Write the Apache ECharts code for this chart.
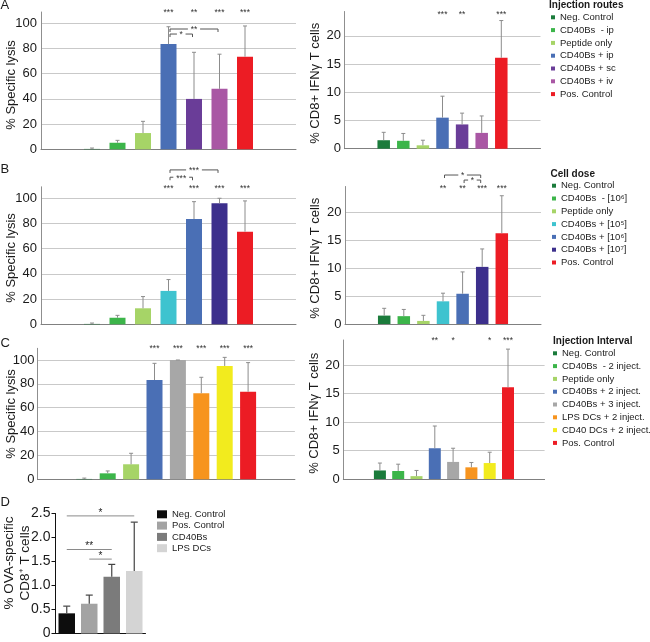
<!DOCTYPE html>
<html><head><meta charset="utf-8">
<script src="https://cdn.jsdelivr.net/npm/echarts@6/dist/echarts.min.js"></script>
<style>html,body{margin:0;padding:0;background:#fff}#c{width:650px;height:642px}</style>
</head><body><div id="c"></div>
<script>
const FONT = "'Liberation Sans', Arial, Helvetica, sans-serif";

// ---------------- DATA ----------------
// tick labels
const lysisTicks = [0, 20, 40, 60, 80, 100];
const ifnTicks = [0, 5, 10, 15, 20];
const ovaTicks = [0, 0.5, 1.0, 1.5, 2.0, 2.5];

// Panel A: injection routes
const routesNames = ['Neg. Control', 'CD40Bs  - ip', 'Peptide only', 'CD40Bs + ip', 'CD40Bs + sc', 'CD40Bs + iv', 'Pos. Control'];
const routesColors = ['#1b7b3b', '#3cb54a', '#a6d467', '#4a6fb5', '#6a3d98', '#a957a4', '#ec1c24'];
const routesLysis = [0.3, 5.2, 12.9, 83.5, 40, 48, 73.5];
const routesLysisErr = [1.0, 7.1, 22.2, 97.3, 77, 75.5, 97.9];
const routesLysisStars = ['', '', '', '***', '**', '***', '***'];
const routesLysisBrackets = [['**', 3, 5], ['*', 3, 4]];
const routesIfn = [1.5, 1.4, 0.6, 5.5, 4.3, 2.8, 16.1];
const routesIfnErr = [2.9, 2.7, 1.5, 9.3, 6.3, 5.8, 22.7];
const routesIfnStars = ['', '', '', '***', '**', '', '***'];

// Panel B: cell dose
const doseNames = ['Neg. Control', 'CD40Bs  - [10\u2076]', 'Peptide only', 'CD40Bs + [10\u2075]', 'CD40Bs + [10\u2076]', 'CD40Bs + [10\u2077]', 'Pos. Control'];
const doseColors = ['#1b7b3b', '#3cb54a', '#a6d467', '#3ec3cf', '#4a6fb5', '#3c2f8c', '#ec1c24'];
const doseLysis = [0.3, 5.2, 12.7, 26.5, 83.5, 96, 73.5];
const doseLysisErr = [1.0, 7.1, 22, 35.5, 97.3, 100, 97.9];
const doseLysisStars = ['', '', '', '***', '***', '***', '***'];
const doseLysisBrackets = [['***', 3, 5], ['***', 3, 4]];
const doseIfn = [1.5, 1.4, 0.55, 4.05, 5.4, 10.2, 16.2];
const doseIfnErr = [2.8, 2.6, 1.55, 5.5, 9.3, 13.4, 22.9];
const doseIfnStars = ['', '', '', '**', '**', '***', '***'];
const doseIfnBrackets = [['*', 3, 5], ['*', 4, 5]];

// Panel C: injection interval
const intervalNames = ['Neg. Control', 'CD40Bs  - 2 inject.', 'Peptide only', 'CD40Bs + 2 inject.', 'CD40Bs + 3 inject.', 'LPS DCs + 2 inject.', 'CD40 DCs + 2 inject.', 'Pos. Control'];
const intervalColors = ['#1b7b3b', '#3cb54a', '#a6d467', '#4a6fb5', '#a7a7a7', '#f7941e', '#f2eb1e', '#ec1c24'];
const intervalLysis = [0.3, 5.0, 12.6, 83.2, 100, 72.1, 95, 73.4];
const intervalLysisErr = [1.0, 7.0, 21.8, 97.2, 100, 85.5, 102.2, 97.8];
const intervalLysisStars = ['', '', '', '***', '***', '***', '***', '***'];
const intervalIfn = [1.5, 1.4, 0.5, 5.4, 3.0, 2.05, 2.8, 16.1];
const intervalIfnErr = [2.8, 2.6, 1.5, 9.3, 5.4, 2.9, 4.7, 22.8];
const intervalIfnStars = ['', '', '', '**', '*', '', '*', '***'];

// Panel D: OVA-specific CD8+ T cells
const ovaNames = ['Neg. Control', 'Pos. Control', 'CD40Bs', 'LPS DCs'];
const ovaColors = ['#0d0d0d', '#a3a3a3', '#7b7b7b', '#d4d4d4'];
const ovaVals = [0.42, 0.62, 1.18, 1.3];
const ovaErr = [0.57, 0.8, 1.44, 2.32];
const ovaComparisons = [['*', 0, 3], ['**', 0, 2], ['*', 1, 2]];

// ---------------- BUILD ----------------
const option = {
  animation: false, backgroundColor: '#fff',
  grid: [], xAxis: [], yAxis: [], series: [], legend: [], graphic: { elements: [] }
};

function isTick(ticks, v) { return ticks.some(t => Math.abs(t - v) < 1e-6); }

function addPanel(p) {
  const gi = option.grid.length;
  option.grid.push({ left: p.left, top: p.top, width: p.width, height: p.height, containLabel: false });
  const pad = p.padBefore || 0;
  const cats = [];
  for (let i = 0; i < pad; i++) cats.push('pad' + i);
  p.names.forEach(n => cats.push(n));
  while (cats.length < p.nCat) cats.push('pad' + cats.length);
  option.xAxis.push({
    gridIndex: gi, type: 'category', data: cats, boundaryGap: p.boundaryGap,
    axisLine: { show: true, lineStyle: { color: p.xLineColor, width: 1 } },
    axisTick: { show: false }, axisLabel: { show: false }, splitLine: { show: false }
  });
  const ticks = p.ticks;
  option.yAxis.push({
    gridIndex: gi, type: 'value', min: 0, max: p.max, interval: ticks[1] - ticks[0],
    axisLine: { show: true, lineStyle: { color: p.yLineColor, width: 1 } },
    axisTick: p.yTick ? { show: true, inside: false, length: 4, lineStyle: { color: p.yLineColor } } : { show: false },
    axisLabel: {
      fontFamily: FONT, fontSize: p.labelSize, color: '#1a1a1a', margin: p.labelMargin,
      showMaxLabel: p.showMaxLabel,
      formatter: v => isTick(ticks, v) ? (p.fmt ? p.fmt(v) : String(v)) : ''
    },
    splitLine: { show: p.grid, showMaxLine: false, lineStyle: { color: '#c9c9c9', width: 1 } }
  });
  // bars, one series per category
  p.names.forEach((n, i) => {
    option.series.push({
      type: 'bar', name: n, xAxisIndex: gi, yAxisIndex: gi, silent: true,
      barWidth: p.barWidth, barGap: '-100%',
      itemStyle: { color: p.colors[i] },
      data: [[i + pad, p.vals[i]]]
    });
  });
  // error bars
  option.series.push({
    type: 'custom', xAxisIndex: gi, yAxisIndex: gi, silent: true, clip: false, z: 3,
    encode: { x: 0, y: 1 },
    data: p.vals.map((v, i) => [i + pad, v, p.errs[i]]),
    renderItem: (params, api) => {
      const a = api.coord([api.value(0), api.value(1)]);
      const b = api.coord([api.value(0), api.value(2)]);
      const st = { stroke: p.errColor, lineWidth: p.errWidth, fill: null };
      return { type: 'group', children: [
        { type: 'line', shape: { x1: a[0], y1: a[1], x2: b[0], y2: b[1] }, style: st },
        { type: 'line', shape: { x1: b[0] - p.capWidth / 2, y1: b[1], x2: b[0] + p.capWidth / 2, y2: b[1] }, style: st }
      ] };
    }
  });
  // annotations (stars, brackets, comparison lines)
  const ann = [];
  (p.stars || []).forEach((s, i) => { if (s) ann.push({ kind: 'star', k: i + pad, level: p.starLevel, text: s }); });
  (p.brackets || []).forEach((b, j) => ann.push({ kind: p.bracketKind || 'bracket', k1: b[1] + pad, k2: b[2] + pad, level: p.bracketLevels[j], text: b[0] }));
  if (ann.length) {
    option.series.push({
      type: 'custom', xAxisIndex: gi, yAxisIndex: gi, silent: true, clip: false, z: 4,
      encode: { x: 0, y: 1 },
      data: ann.map(a => [a.kind === 'star' ? a.k : a.k1, a.level]),
      renderItem: (params, api) => {
        const a = ann[params.dataIndex];
        const ch = [];
        if (a.kind === 'star') {
          const q = api.coord([a.k, a.level]);
          ch.push({ type: 'text', style: { text: a.text, x: q[0], y: q[1], fill: '#333', font: '8.5px ' + FONT, textAlign: 'center', textVerticalAlign: 'middle' } });
        } else {
          const q1 = api.coord([a.k1, a.level]), q2 = api.coord([a.k2, a.level]);
          const st = { stroke: p.annColor, lineWidth: 1, fill: null };
          if (a.kind === 'bracket') {
            const x1 = q1[0] + 1.5, x2 = q2[0] - 1.5, y = q1[1], cx = (x1 + x2) / 2, hg = a.text.length * 1.8 + 2.5;
            ch.push({ type: 'polyline', shape: { points: [[x1, y + 3], [x1, y], [cx - hg, y]] }, style: st });
            ch.push({ type: 'polyline', shape: { points: [[cx + hg, y], [x2, y], [x2, y + 3]] }, style: st });
            ch.push({ type: 'text', style: { text: a.text, x: cx, y: y + 1, fill: '#333', font: '8.5px ' + FONT, textAlign: 'center', textVerticalAlign: 'middle' } });
          } else {
            const y = q1[1];
            ch.push({ type: 'line', shape: { x1: q1[0], y1: y, x2: q2[0], y2: y }, style: st });
            ch.push({ type: 'text', style: { text: a.text, x: (q1[0] + q2[0]) / 2, y: y - 3, fill: '#222', font: '10px ' + FONT, textAlign: 'center', textVerticalAlign: 'middle' } });
          }
        }
        return { type: 'group', children: ch };
      }
    });
  }
}

const baseLeft = { boundaryGap: false, padBefore: 2, xLineColor: '#808080', yLineColor: '#8f8f8f', labelSize: 13, labelMargin: 4, showMaxLabel: false, grid: true, errColor: '#8c8c8c', errWidth: 1, capWidth: 4, annColor: '#555', yTick: false };

// A
addPanel(Object.assign({}, baseLeft, { names: routesNames, colors: routesColors, vals: routesLysis, errs: routesLysisErr, stars: routesLysisStars, brackets: routesLysisBrackets, bracketLevels: [95.5, 91.5], starLevel: 108.4, ticks: lysisTicks,
  left: 41, width: 255, top: 12, height: 137.3, max: 109.0, nCat: 11, barWidth: 16 }));
addPanel(Object.assign({}, baseLeft, { names: routesNames, colors: routesColors, vals: routesIfn, errs: routesIfnErr, stars: routesIfnStars, starLevel: 23.7, ticks: ifnTicks, labelMargin: 3.5,
  left: 344.5, width: 196, top: 11.5, height: 137.2, max: 24.3, nCat: 11, barWidth: 12.5 }));
// B
addPanel(Object.assign({}, baseLeft, { names: doseNames, colors: doseColors, vals: doseLysis, errs: doseLysisErr, stars: doseLysisStars, brackets: doseLysisBrackets, bracketLevels: [122.5, 116.7], starLevel: 107.9, ticks: lysisTicks,
  left: 41, width: 255, top: 186.8, height: 137.5, max: 109.1, nCat: 11, barWidth: 16 }));
addPanel(Object.assign({}, baseLeft, { names: doseNames, colors: doseColors, vals: doseIfn, errs: doseIfnErr, stars: doseIfnStars, brackets: doseIfnBrackets, bracketLevels: [26.6, 25.7], starLevel: 24.1, ticks: ifnTicks, labelMargin: 3.5,
  left: 345, width: 196, top: 186.5, height: 137.5, max: 24.55, nCat: 11, barWidth: 12.5 }));
// C
addPanel(Object.assign({}, baseLeft, { names: intervalNames, colors: intervalColors, vals: intervalLysis, errs: intervalLysisErr, stars: intervalLysisStars, starLevel: 109.2, ticks: lysisTicks, labelMargin: 3,
  left: 37.5, width: 257.4, top: 348.3, height: 131, max: 109.8, nCat: 12, barWidth: 16 }));
addPanel(Object.assign({}, baseLeft, { names: intervalNames, colors: intervalColors, vals: intervalIfn, errs: intervalIfnErr, stars: intervalIfnStars, starLevel: 24.2, ticks: ifnTicks, labelMargin: 3.5,
  left: 343.3, width: 201.3, top: 340, height: 139, max: 24.4, nCat: 12, barWidth: 12 }));
// D
addPanel({ names: ovaNames, colors: ovaColors, vals: ovaVals, errs: ovaErr, brackets: ovaComparisons, bracketKind: 'line', bracketLevels: [2.45, 1.75, 1.55], ticks: ovaTicks,
  boundaryGap: true, padBefore: 0, nCat: 4, xLineColor: '#111', yLineColor: '#111', yTick: true, labelSize: 14, labelMargin: 5, showMaxLabel: true, grid: false,
  fmt: v => v === 0 ? '0' : v.toFixed(1), errColor: '#444', errWidth: 1.2, capWidth: 7, annColor: '#8a8a8a',
  left: 55.5, width: 90, top: 513.5, height: 120, max: 2.5, barWidth: 16.5 });

// legends
function addLegend(names, colors, left, top, iw, ih, lh, gap) {
  option.legend.push({
    orient: 'vertical', left, top, padding: 0, itemWidth: iw, itemHeight: ih, itemGap: gap, icon: 'rect', selectedMode: false,
    textStyle: { fontFamily: FONT, fontSize: 9.5, color: '#222', lineHeight: lh },
    data: names.map((n, i) => ({ name: n, itemStyle: { color: colors[i] } }))
  });
}
addLegend(routesNames, routesColors, 551, 11.3, 4, 4, 12, 0.8);
addLegend(doseNames, doseColors, 552, 179.7, 4, 4, 12, 0.8);
addLegend(intervalNames, intervalColors, 553, 347.3, 4, 4, 12, 0.8);
addLegend(ovaNames, ovaColors, 157, 508.8, 10, 8, 11, 0.3);

// free text
function gtext(text, x, y, size, opts) {
  opts = opts || {};
  option.graphic.elements.push({
    type: 'text', x, y, rotation: opts.rot || 0, silent: true,
    style: { text, fill: opts.color || '#1a1a1a', font: (opts.weight || 'normal') + ' ' + size + 'px ' + FONT,
      textAlign: opts.align || 'left', textVerticalAlign: 'middle', lineHeight: opts.lh }
  });
}
gtext('A', 0.5, 5, 13);
gtext('B', 0.5, 169, 13);
gtext('C', 0.5, 343.5, 13);
gtext('D', 0.5, 502.5, 13);
const R = Math.PI / 2;
gtext('% Specific lysis', 11.5, 85, 13, { rot: R, align: 'center' });
gtext('% CD8+ IFN\u03b3 T cells', 315.5, 83.3, 13, { rot: R, align: 'center' });
gtext('% Specific lysis', 11.5, 258, 13, { rot: R, align: 'center' });
gtext('% CD8+ IFN\u03b3 T cells', 315.5, 258.3, 13, { rot: R, align: 'center' });
gtext('% Specific lysis', 11, 414, 13, { rot: R, align: 'center' });
gtext('% CD8+ IFN\u03b3 T cells', 314.5, 413.3, 13, { rot: R, align: 'center' });
gtext('% OVA-specific\nCD8\u207a T cells', 17, 563, 13.5, { rot: R, align: 'center', lh: 16 });
gtext('Injection routes', 549, 5, 10, { weight: 'bold' });
gtext('Cell dose', 550.5, 174, 10, { weight: 'bold' });
gtext('Injection Interval', 553, 341.7, 10, { weight: 'bold' });

const chart = echarts.init(document.getElementById('c'), null, { renderer: 'canvas' });
chart.setOption(option);
</script>
</body></html>
